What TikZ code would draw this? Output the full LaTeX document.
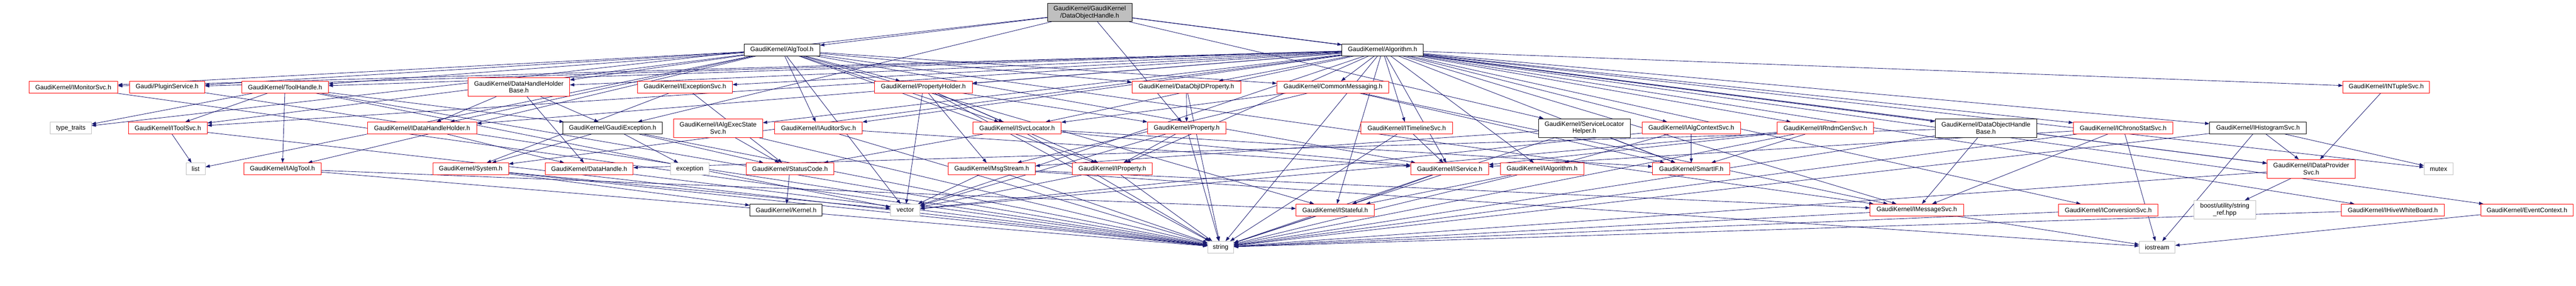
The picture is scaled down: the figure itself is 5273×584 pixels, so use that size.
\documentclass[tikz,border=0pt]{standalone}
\usepackage{fontspec}
\setmainfont{Liberation Sans}
\usetikzlibrary{arrows.meta,backgrounds}
\definecolor{edgeblue}{RGB}{25,25,112}
\definecolor{sysgray}{RGB}{191,191,191}

\begin{document}
\begin{tikzpicture}[x=1pt, y=-1pt,
  box/.style={draw, fill=white, line width=0.9pt, inner sep=0pt, minimum height=24pt, align=center, font=\fontsize{13}{14.3}\selectfont},
  twoline/.style={minimum height=38pt},
  dep/.style={edgeblue, line width=0.9pt, -{Triangle[length=9pt,width=6.5pt]}}]
\useasboundingbox (0,0) rectangle (5273,584);

% root
\node[box, fill=sysgray, minimum width=173pt, minimum height=37pt] (DOH) at (2230.5,25.5) {GaudiKernel/GaudiKernel\\/DataObjectHandle.h};

\begin{scope}[every node/.style={box, draw=black}]
\node[minimum width=155pt] (AlgTool) at (1600.5,102) {GaudiKernel/AlgTool.h};
\node[minimum width=166pt] (Algo) at (2830,102) {GaudiKernel/Algorithm.h};
\node[minimum width=204pt] (GEx) at (1254,261.5) {GaudiKernel/GaudiException.h};
\node[minimum width=188pt, twoline] (SLH) at (3243,261.5) {GaudiKernel/ServiceLocator\\Helper.h};
\node[minimum width=208pt, twoline] (DOHB) at (4065,261.5) {GaudiKernel/DataObjectHandle\\Base.h};
\node[minimum width=198pt] (IHist) at (4622,261.5) {GaudiKernel/IHistogramSvc.h};
\node[minimum width=148pt] (Kern) at (1609,429) {GaudiKernel/Kernel.h};
\end{scope}

\begin{scope}[every node/.style={box, draw=red}]
\node[minimum width=182pt] (IMon) at (150,178) {GaudiKernel/IMonitorSvc.h};
\node[minimum width=154pt] (Plugin) at (342,178) {Gaudi/PluginService.h};
\node[minimum width=177pt] (TH) at (583.5,178) {GaudiKernel/ToolHandle.h};
\node[minimum width=208pt, twoline] (DHHB) at (1062,178) {GaudiKernel/DataHandleHolder\\Base.h};
\node[minimum width=194pt] (IExc) at (1402,178) {GaudiKernel/IExceptionSvc.h};
\node[minimum width=200pt] (PH) at (1890,178) {GaudiKernel/PropertyHolder.h};
\node[minimum width=223pt] (DOIDP) at (2428.5,178) {GaudiKernel/DataObjIDProperty.h};
\node[minimum width=229pt] (CM) at (2728.5,178) {GaudiKernel/CommonMessaging.h};
\node[minimum width=177pt] (INT) at (4884.5,178) {GaudiKernel/INTupleSvc.h};

\node[minimum width=161pt] (ITool) at (343.5,261.5) {GaudiKernel/IToolSvc.h};
\node[minimum width=224pt] (IDHH) at (864,261.5) {GaudiKernel/IDataHandleHolder.h};
\node[minimum width=182pt, twoline] (IAES) at (1470,261.5) {GaudiKernel/IAlgExecState\\Svc.h};
\node[minimum width=179pt] (IAud) at (1675.5,261.5) {GaudiKernel/IAuditorSvc.h};
\node[minimum width=180pt] (ISL) at (2082,261.5) {GaudiKernel/ISvcLocator.h};
\node[minimum width=160pt] (Prop) at (2429,261.5) {GaudiKernel/Property.h};
\node[minimum width=187pt] (ITL) at (2879.5,261.5) {GaudiKernel/ITimelineSvc.h};
\node[minimum width=202pt] (IACS) at (3462,261.5) {GaudiKernel/IAlgContextSvc.h};
\node[minimum width=197pt] (IRndm) at (3736.5,261.5) {GaudiKernel/IRndmGenSvc.h};
\node[minimum width=204pt] (IChrono) at (4346,261.5) {GaudiKernel/IChronoStatSvc.h};

\node[minimum width=158pt] (IAT) at (578,345) {GaudiKernel/IAlgTool.h};
\node[minimum width=155pt] (Sys) at (963.5,345) {GaudiKernel/System.h};
\node[minimum width=180pt] (DH) at (1206,345) {GaudiKernel/DataHandle.h};
\node[minimum width=180pt] (SC) at (1617,345) {GaudiKernel/StatusCode.h};
\node[minimum width=178pt] (MS) at (2030,345) {GaudiKernel/MsgStream.h};
\node[minimum width=164pt] (IProp) at (2277,345) {GaudiKernel/IProperty.h};
\node[minimum width=159pt] (ISvc) at (2967.5,345) {GaudiKernel/IService.h};
\node[minimum width=171pt] (IAlg) at (3156.5,345) {GaudiKernel/IAlgorithm.h};
\node[minimum width=158pt] (SIF) at (3462,345) {GaudiKernel/SmartIF.h};
\node[minimum width=180pt, twoline] (IDP) at (4731,345) {GaudiKernel/IDataProvider\\Svc.h};

\node[minimum width=160pt] (IStf) at (2733,429) {GaudiKernel/IStateful.h};
\node[minimum width=191pt] (IMsg) at (3923.5,429) {GaudiKernel/IMessageSvc.h};
\node[minimum width=203pt] (IConv) at (4315.5,429) {GaudiKernel/IConversionSvc.h};
\node[minimum width=210pt] (IHWB) at (4898,429) {GaudiKernel/IHiveWhiteBoard.h};
\node[minimum width=189pt] (EvC) at (5172.5,429) {GaudiKernel/EventContext.h};
\end{scope}

\begin{scope}[every node/.style={box, draw=sysgray}]
\node[minimum width=84pt] (tt) at (145,261.5) {type\_traits};
\node[minimum width=39pt] (lst) at (400.5,345) {list};
\node[minimum width=80pt] (exc) at (1412,345) {exception};
\node[minimum width=59pt] (mtx) at (4991.5,345) {mutex};
\node[minimum width=60pt] (vec) at (1853,429) {vector};
\node[minimum width=126pt, twoline] (sref) at (4554,428.5) {boost/utility/string\\\_ref.hpp};
\node[minimum width=53pt] (str) at (2498.5,505) {string};
\node[minimum width=73pt] (ios) at (4415.5,505) {iostream};
\end{scope}

\begin{pgfonlayer}{background}
\path[dep] (DOH) edge (AlgTool) edge (Algo) edge (Prop) edge (DOHB) edge (GEx)
  edge (IDP) edge (SLH) edge (tt);
\path[dep] (AlgTool) edge (IMon) edge (Plugin) edge (TH) edge (DHHB) edge (PH)
  edge (DOIDP) edge (CM) edge (ITool) edge (IDHH) edge (IAud) edge (ISL)
  edge (IProp) edge (ISvc) edge (IAT) edge (IStf) edge (IMsg) edge (lst) edge (vec);
\path[dep] (Algo) edge (IMon) edge (Plugin) edge (TH) edge (DHHB) edge (IExc)
  edge (PH) edge (DOIDP) edge (CM) edge (INT) edge (ITool) edge (IDHH) edge (IAES)
  edge (IAud) edge (ISL) edge (ITL) edge (IACS) edge (IRndm) edge (IChrono)
  edge (IHist) edge (Sys) edge (IAlg) edge (IProp) edge (ISvc) edge (SIF)
  edge (IDP) edge (IStf) edge (IMsg) edge (IConv) edge (IHWB) edge (EvC)
  edge (str) edge (vec) edge (mtx);
\path[dep] (IMon) edge (str);
\path[dep] (Plugin) edge (str);
\path[dep] (TH) edge (IAT) edge (ITool) edge (GEx) edge (tt) edge (str) edge (vec);
\path[dep] (ITool) edge (lst) edge (str);
\path[dep] (DHHB) edge (IDHH) edge (GEx) edge (DH);
\path[dep] (IDHH) edge (DH);
\path[dep] (GEx) edge (Sys) edge (SC) edge (exc) edge (str);
\path[dep] (IExc) edge (SC) edge (Sys);
\path[dep] (IAES) edge (SC) edge (str);
\path[dep] (IAud) edge (ISvc) edge (str);
\path[dep] (PH) edge (ISL) edge (MS) edge (vec) edge (Prop) edge (IProp) edge (str);
\path[dep] (DOIDP) edge (Prop) edge (str);
\path[dep] (Prop) edge (IProp) edge (str) edge (vec);
\path[dep] (CM) edge (MS) edge (IMsg) edge (ISL) edge (SIF);
\path[dep] (ISL) edge (SC) edge (ISvc) edge (SIF) edge (str);
\path[dep] (MS) edge (IMsg) edge (vec) edge (str) edge (ios);
\path[dep] (IProp) edge (str) edge (vec);
\path[dep] (ITL) edge (ISvc) edge (str);
\path[dep] (SLH) edge (SIF) edge (MS) edge (str);
\path[dep] (IACS) edge (IAlg) edge (SIF) edge (vec);
\path[dep] (IRndm) edge (SIF) edge (ISvc) edge (vec) edge (str);
\path[dep] (DOHB) edge (DH) edge (IMsg) edge (str);
\path[dep] (IChrono) edge (IMsg) edge (ios) edge (str) edge (ISvc);
\path[dep] (IHist) edge (IDP) edge (str) edge (ios) edge (mtx);
\path[dep] (INT) edge (IDP);
\path[dep] (IDP) edge (sref) edge (str);
\path[dep] (IConv) edge (str);
\path[dep] (IHWB) edge (str);
\path[dep] (EvC) edge (ios);
\path[dep] (IMsg) edge (str) edge (ios);
\path[dep] (ISvc) edge (IStf) edge (str);
\path[dep] (IAlg) edge (IStf) edge (str);
\path[dep] (IStf) edge (str);
\path[dep] (SC) edge (Kern);
\path[dep] (Sys) edge (Kern) edge (str) edge (vec);
\path[dep] (IAT) edge (IStf) edge (str);
\path[dep] (DH) edge (str);
\end{pgfonlayer}

\end{tikzpicture}
\end{document}
